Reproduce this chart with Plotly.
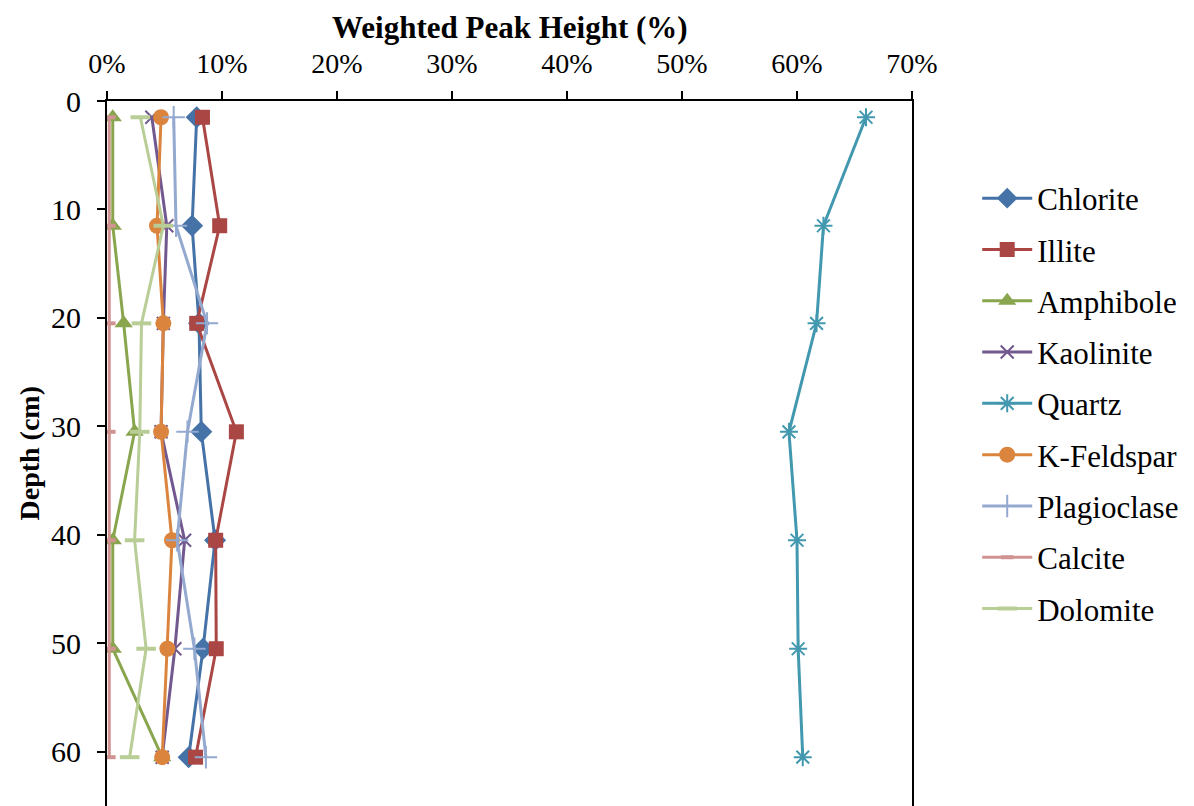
import plotly.graph_objects as go

depth = [1.5, 11.5, 20.5, 30.5, 40.5, 50.5, 60.5]
chlorite = [7.8, 7.4, 8.0, 8.2, 9.4, 8.35, 7.1]
illite = [8.3, 9.8, 7.8, 11.25, 9.45, 9.5, 7.7]
amphibole = [0.5, 0.5, 1.45, 2.4, 0.5, 0.5, 4.8]
kaolinite = [3.9, 5.2, 4.9, 4.7, 6.75, 5.9, 4.8]
quartz = [66.0, 62.3, 61.7, 59.3, 60.0, 60.1, 60.5]
kfeldspar = [4.7, 4.35, 4.9, 4.7, 5.65, 5.25, 4.8]
plagioclase = [5.8, 6.0, 8.7, 7.0, 6.1, 7.6, 8.6]
calcite = [0.2, 0.2, 0.2, 0.2, 0.2, 0.2, 0.2]
dolomite = [2.9, 4.9, 3.0, 2.85, 2.4, 3.4, 1.97]

x_ticks = [0, 10, 20, 30, 40, 50, 60, 70]
y_ticks = [0, 10, 20, 30, 40, 50, 60]

series = [
    ("Chlorite", chlorite, "#4572A7", "diamond", 17, 0),
    ("Illite", illite, "#AA4643", "square", 15, 0),
    ("Amphibole", amphibole, "#89A54E", "triangle-up", 16, 0),
    ("Kaolinite", kaolinite, "#71588F", "x-thin-open", 13, 2),
    ("Quartz", quartz, "#4198AF", "asterisk-open", 15, 2),
    ("K-Feldspar", kfeldspar, "#DB843D", "circle", 16, 0),
    ("Plagioclase", plagioclase, "#93A9CF", "cross-thin-open", 16, 2),
    ("Calcite", calcite, "#D19392", "line-ew-open", 9, 4),
    ("Dolomite", dolomite, "#B9CD96", "line-ew-open", 14, 4),
]

FONT = "Liberation Serif, Times New Roman, serif"

fig = go.Figure()
for i, (name, vals, col, sym, size, lw) in enumerate(series):
    fig.add_trace(go.Scatter(
        x=[v / 100 for v in vals], y=depth, name=name, mode="lines+markers",
        line=dict(color=col, width=3),
        marker=dict(symbol=sym, size=size, color=col,
                    line=dict(color=col, width=lw)),
        legendgroup=f"g{i}",
    ))

fig.update_layout(
    width=1186, height=798,
    margin=dict(l=99, r=282, t=93, b=0),
    paper_bgcolor="white", plot_bgcolor="white",
    font=dict(family=FONT, size=28, color="black"),
    showlegend=True,
    legend=dict(x=1.081, y=0.9, xanchor="left", yanchor="top",
                font=dict(size=31, family=FONT), tracegroupgap=8,
                itemwidth=50, bgcolor="rgba(0,0,0,0)"),
    xaxis=dict(
        side="top", range=[0, 0.70], tickvals=[t / 100 for t in x_ticks],
        ticktext=[f"{t}%" for t in x_ticks], automargin=False,
        tickfont=dict(size=28), ticklabelstandoff=7,
        showgrid=False, zeroline=False, showline=True, linecolor="black",
        linewidth=2, ticks="outside", ticklen=8, tickwidth=2, tickcolor="black",
    ),
    yaxis=dict(
        range=[65, 0], tickvals=y_ticks, ticktext=[str(t) for t in y_ticks],
        automargin=False, tickfont=dict(size=30),
        showgrid=False, zeroline=False, showline=True, linecolor="black",
        linewidth=2, mirror=True, ticks="outside", ticklen=8, tickwidth=2,
        tickcolor="black", ticklabelstandoff=10,
    ),
    annotations=[
        dict(text="<b>Weighted Peak Height (%)</b>", xref="paper", yref="paper",
             x=0.5, y=1, yshift=74, xanchor="center", yanchor="middle",
             borderpad=0, showarrow=False, font=dict(size=31, family=FONT)),
        dict(text="<b>Depth (cm)</b>", xref="paper", yref="paper",
             x=0, xshift=-78, y=0.5, xanchor="center", yanchor="middle",
             textangle=-90, showarrow=False, font=dict(size=28, family=FONT)),
    ],
)

fig.write_html("out.html")
